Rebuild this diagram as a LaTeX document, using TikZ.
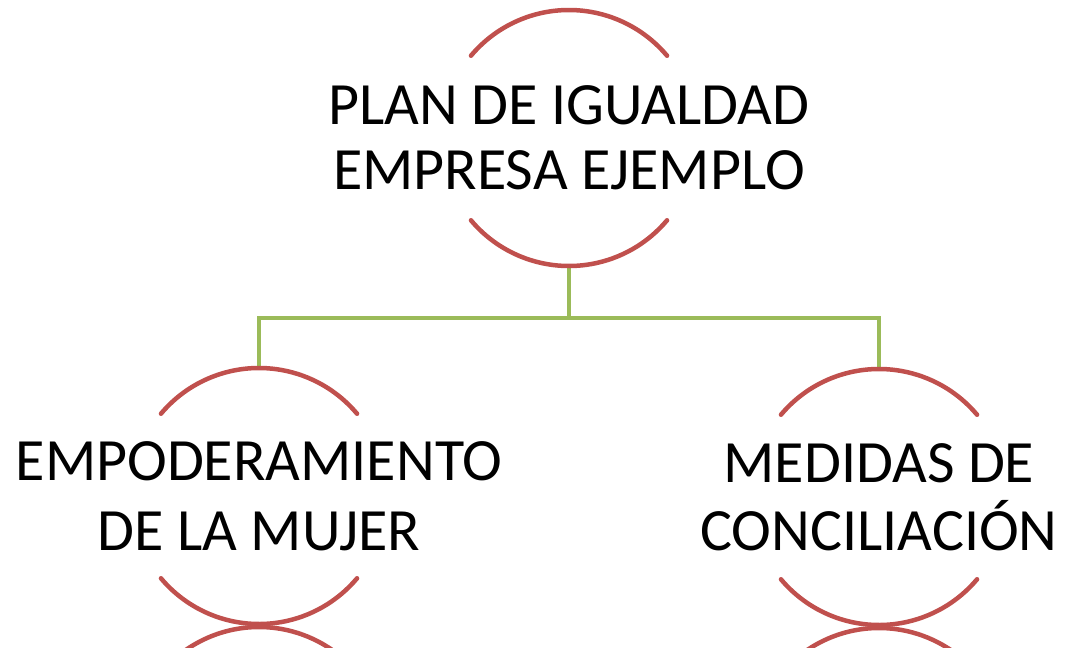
\documentclass[tikz,border=0pt]{standalone}
\usepackage{fontspec}
\setmainfont{Carlito}
\usepackage{xcolor}
\definecolor{arcred}{HTML}{C0504D}
\definecolor{linkgreen}{HTML}{9BBB59}

\begin{document}
\begin{tikzpicture}[x=1pt,y=1pt]
        \tikzstyle{ring}=[circle,inner sep=0pt,outer sep=0pt,minimum size=256pt]
        \tikzstyle{caption}=[inner sep=0pt,align=center,font=\fontsize{60}{65}\selectfont]
        \tikzstyle{rim}=[draw=arcred,line width=4.5pt,line cap=round]
        \tikzstyle{link}=[draw=linkgreen,line width=4pt]
        \useasboundingbox (0,0) rectangle (1069,-648);
        \clip (0,0) rectangle (1069,-648);
        \node at (569,-138) [ring] (label1) {};
        \node at (259,-496) [ring] (label2) {};
        \node at (879,-497) [ring] (label3) {};
        \node at (259,-755) [ring] (label4) {};
        \node at (879,-756) [ring] (label5) {};
        \node at (label1) [caption] (text1) {PLAN DE IGUALDAD\\EMPRESA EJEMPLO};
        \node at (label2) [caption,font=\fontsize{60}{70}\selectfont] (text2) {EMPODERAMIENTO\\DE LA MUJER};
        \node at (label3) [caption,font=\fontsize{60}{68}\selectfont] (text3) {MEDIDAS DE\\CONCILIACIÓN};
        \draw[link] (label1.south) -- ++(0,-52) -| (label2.north);
        \draw[link] (label1.south) -- ++(0,-52) -| (label3.north);
        \foreach \n in {label1,label2,label3}{
          \draw[rim] (\n.140) arc (140:40:128pt);
          \draw[rim] (\n.220) arc (220:320:128pt);
        }
        \foreach \n in {label4,label5}
          \draw[rim] (\n.140) arc (140:40:128pt);
        %\draw [<-] (label2.north) -- (label1.south);
\end{tikzpicture}
\end{document}
